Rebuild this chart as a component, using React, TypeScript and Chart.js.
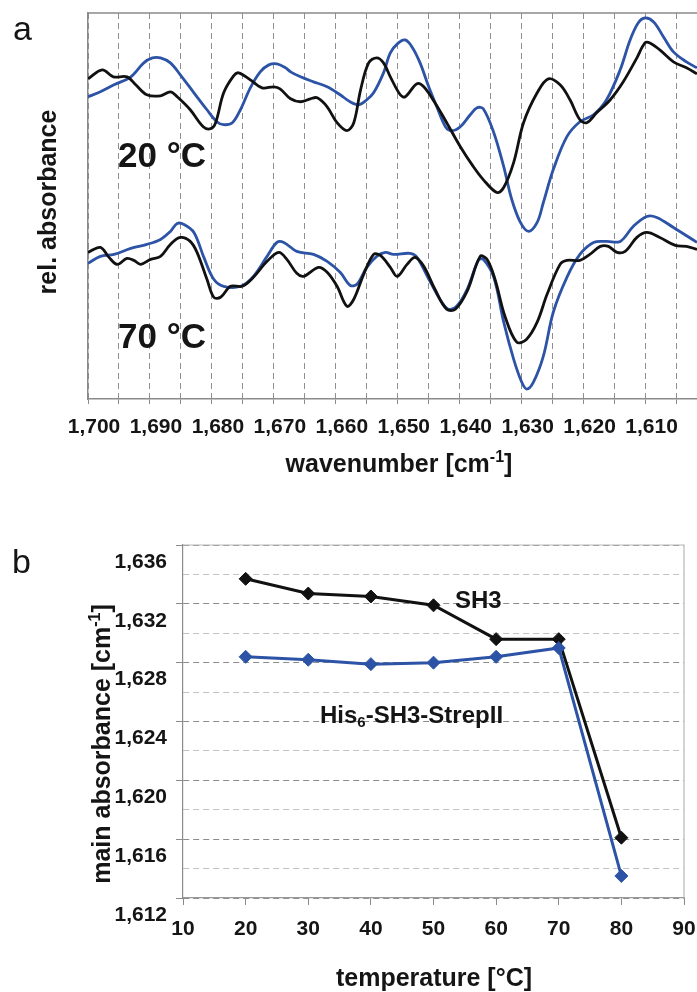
import React, { useEffect, useRef } from 'react';
import { Chart, registerables } from 'chart.js';

Chart.register(...registerables);

const FAMILY = "'Liberation Sans', Arial, Helvetica, sans-serif";
const TEXT = '#151515';
const BLUE = '#2c53a5';
const BLACK = '#111111';

// ---------- Panel a: FTIR spectra ----------
const WN_MAX = 1700;
const WN_MIN = 1601.7;
const wnTickLabels = [1700, 1690, 1680, 1670, 1660, 1650, 1640, 1630, 1620, 1610];

const wn20Black = [1700.0, 1697.7, 1695.9, 1693.7, 1692.3, 1690.5, 1688.3, 1686.7, 1685.6, 1683.5, 1681.4, 1680.2, 1679.4, 1678.1, 1676.5, 1675.7, 1673.8, 1671.9, 1670.0, 1669.0, 1667.3, 1665.7, 1664.1, 1663.0, 1661.4, 1659.8, 1658.2, 1657.1, 1656.0, 1654.7, 1653.4, 1652.3, 1651.2, 1649.6, 1648.8, 1646.9, 1645.8, 1644.0, 1642.1, 1639.9, 1637.8, 1636.2, 1634.0, 1632.9, 1631.3, 1629.7, 1627.5, 1625.7, 1623.8, 1622.2, 1620.6, 1619.5, 1617.9, 1615.7, 1613.6, 1611.4, 1610.1, 1609.3, 1607.7, 1605.5, 1603.4, 1601.7];
const abs20Black = [321, 330, 323, 323, 315, 305, 304, 308, 303, 290, 273, 271, 277, 307, 324, 327, 320, 312, 313, 311, 301, 298, 301, 302, 293, 277, 269, 277, 310, 337, 342, 337, 323, 305, 303, 316, 313, 297, 277, 253, 233, 220, 207, 212, 237, 277, 307, 321, 315, 300, 280, 277, 287, 300, 318, 342, 357, 357, 350, 338, 332, 326];

const wn20Blue = [1700.0, 1698.0, 1695.8, 1693.1, 1691.0, 1689.6, 1688.3, 1686.7, 1685.1, 1682.9, 1680.8, 1679.2, 1678.1, 1676.7, 1675.4, 1673.8, 1672.2, 1670.8, 1669.5, 1668.1, 1667.3, 1665.7, 1663.6, 1661.4, 1659.3, 1657.7, 1656.3, 1655.0, 1653.9, 1652.3, 1651.2, 1649.9, 1648.8, 1647.7, 1646.4, 1645.0, 1643.7, 1642.3, 1641.3, 1639.9, 1638.3, 1637.2, 1636.2, 1634.5, 1632.9, 1631.6, 1630.2, 1628.9, 1627.5, 1626.5, 1624.9, 1622.7, 1620.6, 1618.4, 1616.3, 1614.1, 1612.5, 1611.2, 1610.1, 1608.7, 1607.1, 1605.5, 1603.4, 1601.7];
const abs20Blue = [303, 308, 315, 323, 337, 342, 342, 337, 325, 307, 290, 278, 275, 277, 290, 312, 328, 335, 336, 332, 328, 323, 318, 313, 305, 298, 295, 300, 307, 327, 347, 357, 360, 353, 337, 313, 293, 273, 269, 273, 285, 292, 291, 267, 233, 200, 177, 168, 177, 197, 230, 263, 278, 285, 300, 330, 360, 377, 382, 378, 363, 348, 338, 332];

const wn70Black = [1700.0, 1698.0, 1696.6, 1695.3, 1693.7, 1692.6, 1691.5, 1689.9, 1688.3, 1686.7, 1685.1, 1683.5, 1682.4, 1680.8, 1679.7, 1678.6, 1677.0, 1675.1, 1673.3, 1671.1, 1669.2, 1667.9, 1666.3, 1665.2, 1662.8, 1661.4, 1659.8, 1658.2, 1657.1, 1655.5, 1653.9, 1652.8, 1651.2, 1650.1, 1648.5, 1647.2, 1645.8, 1644.0, 1642.1, 1640.7, 1638.8, 1636.7, 1635.6, 1634.3, 1632.7, 1630.8, 1629.2, 1627.5, 1625.9, 1623.8, 1622.7, 1620.6, 1619.0, 1617.3, 1616.0, 1614.6, 1613.3, 1611.4, 1609.8, 1607.7, 1605.2, 1603.4, 1601.7];
const abs70Black = [147, 152, 142, 135, 141, 139, 135, 140, 143, 155, 162, 158, 147, 120, 102, 102, 113, 113, 122, 138, 147, 140, 126, 123, 132, 127, 113, 93, 100, 125, 145, 144, 132, 123, 135, 142, 133, 110, 90, 90, 108, 143, 140, 120, 83, 57, 60, 77, 105, 135, 139, 139, 145, 153, 153, 147, 148, 162, 167, 162, 154, 153, 150];

const wn70Blue = [1700.0, 1698.0, 1695.8, 1693.1, 1690.5, 1688.3, 1686.7, 1685.6, 1684.5, 1682.9, 1681.3, 1679.7, 1678.1, 1675.4, 1673.3, 1671.1, 1669.5, 1668.4, 1666.3, 1663.6, 1661.4, 1659.3, 1657.7, 1656.6, 1655.0, 1653.4, 1652.0, 1650.7, 1648.0, 1646.9, 1644.8, 1642.9, 1641.8, 1640.5, 1638.8, 1637.0, 1636.2, 1634.5, 1632.9, 1631.3, 1630.0, 1629.2, 1628.1, 1626.5, 1624.9, 1622.7, 1620.6, 1618.4, 1616.3, 1614.1, 1612.0, 1609.8, 1608.2, 1605.5, 1601.7];
const abs70Blue = [136, 143, 145, 151, 155, 160, 168, 176, 175, 167, 142, 120, 113, 113, 123, 143, 157, 157, 148, 145, 138, 127, 114, 115, 132, 143, 147, 145, 146, 142, 118, 97, 90, 93, 110, 139, 140, 122, 77, 40, 17, 10, 17, 43, 87, 122, 145, 157, 158, 158, 173, 183, 182, 172, 157];

// ---------- Panel b: main absorbance vs temperature ----------
const temperatures = [20, 30, 40, 50, 60, 70, 80];
const peakSH3 = [1633.7, 1632.7, 1632.5, 1631.9, 1629.6, 1629.6, 1616.1];
const peakHis = [1628.4, 1628.2, 1627.9, 1628.0, 1628.4, 1629.0, 1613.5];

type Seg = { t: string; sup?: boolean; sub?: boolean };

function fmtThousands(v: number): string {
  const n = Math.round(v);
  const th = Math.floor(n / 1000);
  const rest = String(n % 1000).padStart(3, '0');
  return th > 0 ? `${th},${rest}` : String(n);
}

function drawRich(
  ctx: CanvasRenderingContext2D,
  segs: Seg[],
  x: number,
  y: number,
  size: number,
  weight: string,
  align: 'left' | 'center',
  rot = 0
) {
  ctx.save();
  ctx.translate(x, y);
  if (rot) ctx.rotate(rot);
  const fontFor = (s: Seg) => `${weight} ${s.sup || s.sub ? Math.round(size * 0.62) : size}px ${FAMILY}`;
  let total = 0;
  for (const s of segs) {
    ctx.font = fontFor(s);
    total += ctx.measureText(s.t).width;
  }
  let cx = align === 'center' ? -total / 2 : 0;
  ctx.textBaseline = 'alphabetic';
  ctx.textAlign = 'left';
  ctx.fillStyle = TEXT;
  for (const s of segs) {
    ctx.font = fontFor(s);
    const dy = s.sup ? -size * 0.42 : s.sub ? size * 0.16 : 0;
    ctx.fillText(s.t, cx, dy);
    cx += ctx.measureText(s.t).width;
  }
  ctx.restore();
}

function pts(xs: number[], ys: number[]) {
  return xs.map((x, i) => ({ x, y: ys[i] }));
}

const tickFont = { family: FAMILY, size: 21, weight: 'bold' as const };

export default function App() {
  const refA = useRef<HTMLCanvasElement>(null);
  const refB = useRef<HTMLCanvasElement>(null);

  useEffect(() => {
    const lineDs = (label: string, xs: number[], ys: number[], color: string, order: number) => ({
      label,
      data: pts(xs, ys),
      borderColor: color,
      backgroundColor: color,
      borderWidth: 2.8,
      pointRadius: 0,
      tension: 0.35,
      fill: false,
      order,
    });

    const chartA = new Chart(refA.current as HTMLCanvasElement, {
      type: 'line',
      data: {
        datasets: [
          lineDs('20 °C SH3', wn20Black, abs20Black, BLACK, 0),
          lineDs('20 °C His6-SH3-StrepII', wn20Blue, abs20Blue, BLUE, 1),
          lineDs('70 °C SH3', wn70Black, abs70Black, BLACK, 0),
          lineDs('70 °C His6-SH3-StrepII', wn70Blue, abs70Blue, BLUE, 1),
        ],
      },
      options: {
        responsive: false,
        animation: false,
        events: [],
        layout: { autoPadding: false, padding: { left: 0, right: 0, top: 13, bottom: 0 } },
        plugins: { legend: { display: false }, tooltip: { enabled: false } },
        scales: {
          x: {
            type: 'linear',
            reverse: true,
            min: WN_MIN,
            max: WN_MAX,
            afterFit: (s: any) => {
              s.height = 101;
              s.paddingLeft = 0;
              s.paddingRight = 0;
            },
            ticks: {
              stepSize: 5,
              includeBounds: false,
              autoSkip: false,
              maxRotation: 0,
              minRotation: 0,
              padding: 11,
              labelOffset: 6,
              color: TEXT,
              font: tickFont,
              callback: (v: any) => (wnTickLabels.includes(Number(v)) ? fmtThousands(Number(v)) : ''),
            },
            grid: {
              display: true,
              drawOnChartArea: true,
              color: '#8f8f8f',
              lineWidth: 1,
              tickLength: 5,
              tickColor: '#8a8a8a',
            },
            border: { display: true, color: '#8a8a8a', width: 1.5, dash: [6, 4] },
          },
          y: {
            type: 'linear',
            min: 0,
            max: 387,
            afterFit: (s: any) => {
              s.width = 88;
              s.paddingTop = 0;
              s.paddingBottom = 0;
            },
            ticks: { display: false },
            grid: { display: false },
            border: { display: true, color: '#8a8a8a', width: 1.5 },
          },
        },
      },
      plugins: [
        {
          id: 'decorA',
          afterDraw(chart: any) {
            const { ctx, chartArea: ca } = chart;
            ctx.save();
            ctx.strokeStyle = '#8a8a8a';
            ctx.lineWidth = 1.5;
            ctx.beginPath();
            ctx.moveTo(ca.left, ca.top);
            ctx.lineTo(ca.right, ca.top);
            ctx.stroke();
            ctx.restore();

            drawRich(ctx, [{ t: 'a' }], 13, 40, 34, 'normal', 'left');
            drawRich(ctx, [{ t: 'rel. absorbance' }], 56, 202, 25, 'bold', 'center', -Math.PI / 2);
            drawRich(ctx, [{ t: '20 °C' }], 118, 167, 35, 'bold', 'left');
            drawRich(ctx, [{ t: '70 °C' }], 118, 348, 35, 'bold', 'left');
            drawRich(
              ctx,
              [{ t: 'wavenumber [cm' }, { t: '-1', sup: true }, { t: ']' }],
              399,
              472,
              25,
              'bold',
              'center'
            );
          },
        },
      ],
    } as any);

    const markerDs = (label: string, ys: number[], color: string, order: number) => ({
      label,
      data: pts(temperatures, ys),
      borderColor: color,
      backgroundColor: color,
      pointBackgroundColor: color,
      pointBorderColor: color,
      borderWidth: 3,
      pointStyle: 'rectRot',
      pointRadius: 6.5,
      pointBorderWidth: 1,
      tension: 0,
      fill: false,
      order,
    });

    const chartB = new Chart(refB.current as HTMLCanvasElement, {
      type: 'line',
      data: {
        datasets: [markerDs('SH3', peakSH3, BLACK, 1), markerDs('His6-SH3-StrepII', peakHis, BLUE, 0)],
      },
      options: {
        responsive: false,
        animation: false,
        events: [],
        layout: { autoPadding: false, padding: { left: 0, right: 13, top: 45, bottom: 0 } },
        plugins: { legend: { display: false }, tooltip: { enabled: false } },
        scales: {
          x: {
            type: 'linear',
            min: 10,
            max: 90,
            afterFit: (s: any) => {
              s.height = 94;
              s.paddingLeft = 0;
              s.paddingRight = 0;
            },
            ticks: {
              stepSize: 10,
              autoSkip: false,
              maxRotation: 0,
              minRotation: 0,
              padding: 12,
              color: TEXT,
              font: tickFont,
            },
            grid: { display: true, drawOnChartArea: false, tickLength: 7, tickColor: '#8a8a8a' },
            border: { display: true, color: '#999999', width: 1.2 },
          },
          y: {
            type: 'linear',
            min: 1612,
            max: 1636,
            afterFit: (s: any) => {
              s.width = 183;
              s.paddingTop = 0;
              s.paddingBottom = 0;
            },
            ticks: {
              stepSize: 2,
              autoSkip: false,
              padding: 9,
              labelOffset: 17,
              color: TEXT,
              font: tickFont,
              callback: (v: any) => (Number(v) % 4 === 0 ? fmtThousands(Number(v)) : ''),
            },
            grid: {
              display: true,
              drawOnChartArea: true,
              lineWidth: 1,
              color: (c: any) => (c.tick && c.tick.value % 4 === 0 ? '#8c8c8c' : '#c2c2c2'),
              tickLength: 7,
              tickColor: (c: any) => (c.tick && c.tick.value % 4 === 0 ? '#8a8a8a' : 'rgba(0,0,0,0)'),
            },
            border: { display: true, color: '#8a8a8a', width: 1.2, dash: [6, 4] },
          },
        },
      },
      plugins: [
        {
          id: 'decorB',
          afterDraw(chart: any) {
            const { ctx, chartArea: ca } = chart;
            ctx.save();
            ctx.strokeStyle = '#b8b8b8';
            ctx.lineWidth = 1.2;
            ctx.beginPath();
            ctx.moveTo(ca.left, ca.top);
            ctx.lineTo(ca.right, ca.top);
            ctx.lineTo(ca.right, ca.bottom);
            ctx.stroke();
            ctx.restore();

            drawRich(ctx, [{ t: 'b' }], 12, 73, 34, 'normal', 'left');
            drawRich(
              ctx,
              [{ t: 'main absorbance [cm' }, { t: '-1', sup: true }, { t: ']' }],
              110,
              244,
              25,
              'bold',
              'center',
              -Math.PI / 2
            );
            drawRich(ctx, [{ t: 'SH3' }], 455, 108, 24, 'bold', 'left');
            drawRich(
              ctx,
              [{ t: 'His' }, { t: '6', sub: true }, { t: '-SH3-StrepII' }],
              320,
              223,
              24,
              'bold',
              'left'
            );
            drawRich(ctx, [{ t: 'temperature [°C]' }], 434, 486, 25, 'bold', 'center');
          },
        },
      ],
    } as any);

    return () => {
      chartA.destroy();
      chartB.destroy();
    };
  }, []);

  return (
    <div style={{ position: 'absolute', left: 0, top: 0, width: 697, height: 992, background: '#ffffff' }}>
      <canvas
        ref={refA}
        width={697}
        height={500}
        style={{ position: 'absolute', left: 0, top: 0, width: 697, height: 500 }}
      />
      <canvas
        ref={refB}
        width={697}
        height={492}
        style={{ position: 'absolute', left: 0, top: 500, width: 697, height: 492 }}
      />
    </div>
  );
}
